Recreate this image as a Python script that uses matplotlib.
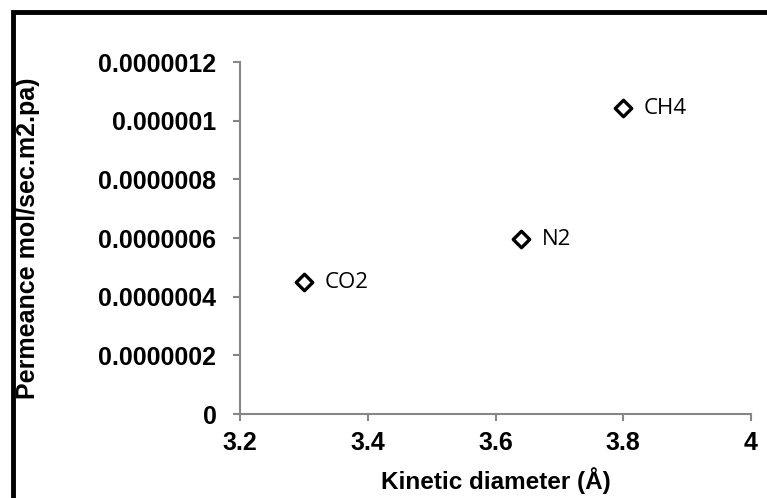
import matplotlib
matplotlib.use('Agg')
import matplotlib.pyplot as plt
from matplotlib.patches import Rectangle

# data
gases = ['CO2', 'N2', 'CH4']
kinetic_diameter = [3.30, 3.64, 3.80]
permeance = [4.5e-7, 5.95e-7, 1.043e-6]

x_ticks = [3.2, 3.4, 3.6, 3.8, 4.0]
x_tick_labels = ['3.2', '3.4', '3.6', '3.8', '4']
y_ticks = [0, 2e-7, 4e-7, 6e-7, 8e-7, 1e-6, 1.2e-6]
y_tick_labels = ['0', '0.0000002', '0.0000004', '0.0000006', '0.0000008', '0.000001', '0.0000012']

plt.rcParams['font.family'] = ['Liberation Sans', 'DejaVu Sans']

fig = plt.figure(figsize=(7.67, 4.98), dpi=100)
ax = fig.add_axes([240/767, 84/498, 511/767, 352/498])

ax.scatter(kinetic_diameter, permeance, marker='D', s=70, facecolors='white',
           edgecolors='black', linewidths=2.4, zorder=3, clip_on=False)
for g, x, y in zip(gases, kinetic_diameter, permeance):
    ax.annotate(g, (x, y), xytext=(15, 0), textcoords='offset points',
                va='center', ha='left', fontsize=16, family='Open Sans')

ax.set_xlim(3.2, 4.0)
ax.set_ylim(0, 1.2e-6)
ax.set_xticks(x_ticks)
ax.set_xticklabels(x_tick_labels, fontsize=18, fontweight='bold')
ax.set_yticks(y_ticks)
ax.set_yticklabels(y_tick_labels, fontsize=18, fontweight='bold')

for s in ['top', 'right']:
    ax.spines[s].set_visible(False)
for s in ['left', 'bottom']:
    ax.spines[s].set_color('#868686')
    ax.spines[s].set_linewidth(1.5)
ax.tick_params(axis='both', direction='out', length=5, width=1.5, color='#868686')
ax.tick_params(axis='y', pad=12)
ax.tick_params(axis='x', pad=7)

ax.set_xlabel('Kinetic diameter (Å)', fontsize=17.5, fontweight='bold', labelpad=9)
fig.text(28/767, 1 - 238/498, 'Permeance mol/sec.m2.pa)', rotation=90, fontsize=18,
         fontweight='bold', ha='center', va='center')

# outer frame
fig.patches.append(Rectangle((13/767, -0.1), 1.2, 1 - 12/498 + 0.1, transform=fig.transFigure,
                             fill=False, edgecolor='black', linewidth=3.5))

fig.savefig('out.png', dpi=100)
